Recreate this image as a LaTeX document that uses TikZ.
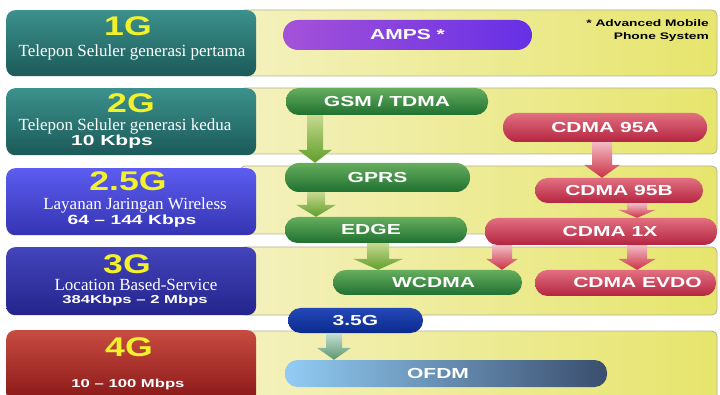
\documentclass[tikz,border=0pt]{standalone}
\usepackage{fontspec}
\setmainfont{Liberation Serif}
\newfontfamily\widesans[FakeStretch=1.45]{Liberation Sans}
\newfontfamily\gensans[FakeStretch=1.32]{Liberation Sans}
\usetikzlibrary{calc}

\definecolor{bandL}{HTML}{F4F1BE}
\definecolor{bandR}{HTML}{E6E56C}
\definecolor{bandEdge}{HTML}{B4B392}
\definecolor{genYellow}{HTML}{F2F22C}
\definecolor{tealT}{HTML}{3C918D}
\definecolor{tealB}{HTML}{1B5A58}
\definecolor{violetT}{HTML}{5C5CF0}
\definecolor{violetB}{HTML}{3434B2}
\definecolor{navyT}{HTML}{4444BC}
\definecolor{navyB}{HTML}{24248C}
\definecolor{brickT}{HTML}{C84C42}
\definecolor{brickB}{HTML}{881616}
\definecolor{grnT}{HTML}{66AE5E}
\definecolor{grnB}{HTML}{1F7030}
\definecolor{redT}{HTML}{E27080}
\definecolor{redB}{HTML}{B42440}
\definecolor{purL}{HTML}{A452D8}
\definecolor{purR}{HTML}{6630E6}
\definecolor{deepT}{HTML}{2448B8}
\definecolor{deepB}{HTML}{0A2A8E}
\definecolor{skyL}{HTML}{92CCF4}
\definecolor{skyR}{HTML}{3A4E6E}
\definecolor{grnArrT}{HTML}{C6D88E}
\definecolor{grnArrB}{HTML}{609E2C}
\definecolor{redArrT}{HTML}{F2BCC4}
\definecolor{redArrB}{HTML}{CC3044}
\definecolor{bluArrT}{HTML}{C4E0D6}
\definecolor{bluArrB}{HTML}{5C966C}

\newcommand\pilltext{\widesans\bfseries\fontsize{14.5}{14.5}\selectfont}
\newcommand\gentext{\gensans\bfseries\fontsize{27}{27}\selectfont}
\newcommand\ratetext[1]{\widesans\bfseries\fontsize{#1}{#1}\selectfont}
\newcommand\desctext{\fontsize{17}{17}\selectfont}

% block arrow from the bottom of one node to the top of another:
% #1 source, #2 target, #3 x, #4 shaft half width, #5 head half width,
% #6 head length, #7 style
\newcommand\flowarrow[7]{%
  \path[#7] let \p1=(#1.south), \p2=(#2.north) in
    ({(#3-#4)*1pt},\y1) -- ({(#3+#4)*1pt},\y1) -- ({(#3+#4)*1pt},{\y2+#6pt})
    -- ({(#3+#5)*1pt},{\y2+#6pt}) -- ({#3*1pt},\y2) -- ({(#3-#5)*1pt},{\y2+#6pt})
    -- ({(#3-#4)*1pt},{\y2+#6pt}) -- cycle;}

\tikzset{
  band/.style={left color=bandL, right color=bandR, draw=bandEdge, line width=0.8pt, rounded corners=5pt},
  genbox/.style={anchor=north west, rounded corners=9pt, minimum width=250pt, inner sep=0pt},
  pill/.style={rounded corners=12.5pt, inner sep=0pt, text=white, font=\pilltext},
  genlabel/.style={anchor=base, text=genYellow, font=\gentext, inner sep=0pt},
  desc/.style={anchor=base, text=white, font=\desctext, inner sep=0pt},
  greenarrow/.style={top color=grnArrT, bottom color=grnArrB},
  redarrow/.style={top color=redArrT, bottom color=redArrB},
  bluearrow/.style={top color=bluArrT, bottom color=bluArrB},
}

\begin{document}
\begin{tikzpicture}[x=1pt, y=-1pt]
\useasboundingbox (0,0) rectangle (720,395);
\clip (0,0) rectangle (720,395);
\fill[white] (0,0) rectangle (720,395);

% yellow bands, one per generation
\path[band] (240,10) rectangle (717,76);
\path[band] (240,88) rectangle (717,154);
\path[band] (240,166) rectangle (717,234);
\path[band] (240,247) rectangle (717,315);
\path[band] (240,331) rectangle (717,402);

% generation boxes on the left
\node[genbox, top color=tealT, bottom color=tealB, minimum height=66pt] (box1) at (6,10) {};
\node[genbox, top color=tealT, bottom color=tealB, minimum height=67pt] (box2) at (6,88) {};
\node[genbox, top color=violetT, bottom color=violetB, minimum height=67pt] (box25) at (6,168) {};
\node[genbox, top color=navyT, bottom color=navyB, minimum height=68pt] (box3) at (6,247) {};
\node[genbox, top color=brickT, bottom color=brickB, minimum height=72pt] (box4) at (6,330) {};

\node[genlabel] (g1) at (128,36) {1G};
\node[desc] (d1) at (132,57) {Telepon Seluler generasi pertama};

\node[genlabel] (g2) at (131,113) {2G};
\node[desc] (d2) at (125,130.5) {Telepon Seluler generasi kedua};
\node[desc, font=\ratetext{14.5}] (r2) at (112,145.5) {10 Kbps};

\node[genlabel] (g25) at (128,191) {2.5G};
\node[desc] (d25) at (135,210) {Layanan Jaringan Wireless};
\node[desc, font=\ratetext{13.3}] (r25) at (132,225) {64 – 144 Kbps};

\node[genlabel] (g3) at (127,274) {3G};
\node[desc] (d3) at (136,290.5) {Location Based-Service};
\node[desc, font=\ratetext{11.5}] (r3) at (135,303.5) {384Kbps – 2 Mbps};

\node[genlabel] (g4) at (129,356) {4G};
\node[desc, font=\ratetext{11.5}] (r4) at (128,387) {10 – 100 Mbps};

% technologies
\node[pill, left color=purL, right color=purR, minimum width=249pt, minimum height=30pt, rounded corners=15pt] (amps) at (407.5,35) {AMPS *};
\node[anchor=north east, align=right, inner sep=0pt, font=\widesans\bfseries\fontsize{9.5}{13}\selectfont] (note) at (709,19) {* Advanced Mobile\\Phone System};

\node[pill, top color=grnT, bottom color=grnB, minimum width=202pt, minimum height=27pt] (gsm) at (387,101.5) {GSM / TDMA};
\node[pill, top color=redT, bottom color=redB, minimum width=204pt, minimum height=29pt, rounded corners=14pt] (c95a) at (605,127.5) {CDMA 95A};
\node[pill, top color=grnT, bottom color=grnB, minimum width=185pt, minimum height=29pt, rounded corners=14pt] (gprs) at (377.5,177.5) {GPRS};
\node[pill, top color=redT, bottom color=redB, minimum width=168pt, minimum height=25pt] (c95b) at (619,190.5) {CDMA 95B};
\node[pill, top color=grnT, bottom color=grnB, minimum width=182pt, minimum height=26pt] (edge) at (376,230) {EDGE\hspace*{10pt}};
\node[pill, top color=redT, bottom color=redB, minimum width=232pt, minimum height=27pt] (c1x) at (601,231.5) {\hspace*{18pt}CDMA 1X};
\node[pill, top color=grnT, bottom color=grnB, minimum width=189pt, minimum height=25pt] (wcdma) at (427.5,282.5) {\hspace*{12pt}WCDMA};
\node[pill, top color=redT, bottom color=redB, minimum width=181pt, minimum height=26pt] (evdo) at (625.5,283) {\hspace*{24pt}CDMA EVDO};
\node[pill, top color=deepT, bottom color=deepB, minimum width=135pt, minimum height=25pt] (g35) at (355.5,320.5) {3.5G};
\node[pill, left color=skyL, right color=skyR, minimum width=322pt, minimum height=27pt] (ofdm) at (446,373.5) {OFDM\hspace*{16pt}};

% evolution arrows
\flowarrow{gsm}{gprs}{315}{8}{17}{13}{greenarrow}
\flowarrow{gprs}{edge}{316}{9}{20}{12}{greenarrow}
\flowarrow{edge}{wcdma}{378}{11}{25}{11}{greenarrow}
\flowarrow{c95a}{c95b}{602}{10}{18}{13}{redarrow}
\flowarrow{c95b}{c1x}{637}{10}{19}{8}{redarrow}
\flowarrow{c1x}{wcdma}{502}{10}{16}{11}{redarrow}
\flowarrow{c1x}{evdo}{637}{10}{19}{11}{redarrow}
\flowarrow{g35}{ofdm}{334}{8}{17}{12}{bluearrow}
\end{tikzpicture}
\end{document}
